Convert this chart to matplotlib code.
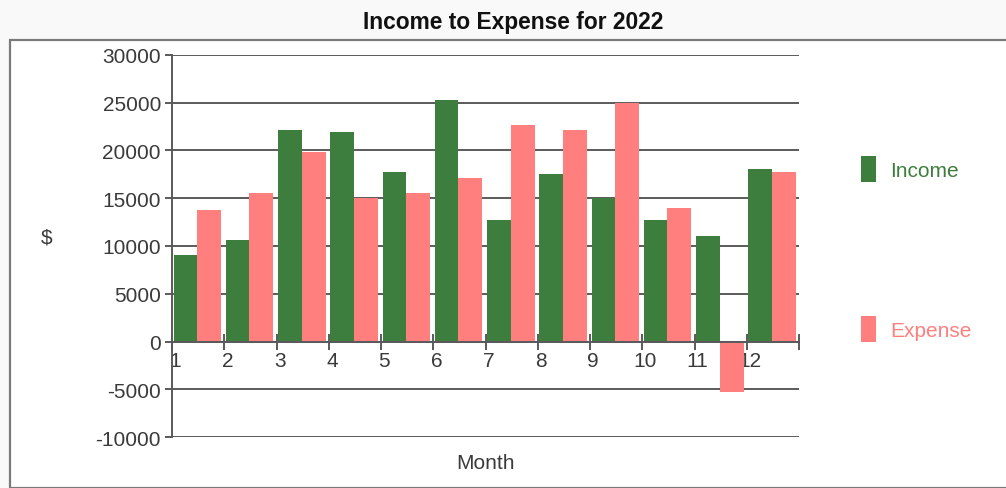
import matplotlib
matplotlib.use('Agg')
import matplotlib.pyplot as plt
from matplotlib.patches import Rectangle
import numpy as np

plt.rcParams['font.family'] = ['Liberation Sans', 'DejaVu Sans']

months = ['1', '2', '3', '4', '5', '6', '7', '8', '9', '10', '11', '12']
income = [9100, 10600, 22100, 21900, 17700, 25300, 12700, 17500, 15000, 12700, 11000, 18100]
expense = [13800, 15600, 19800, 15000, 15600, 17100, 22700, 22100, 25000, 14000, -5300, 17700]
y_ticks = [-10000, -5000, 0, 5000, 10000, 15000, 20000, 25000, 30000]

green = '#3d7d3d'
pink = '#ff7f7f'
text_col = '#3a3a3a'
line_col = '#5a5a5a'

fig = plt.figure(figsize=(10.06, 4.89), dpi=100)
fig.patch.set_facecolor('#f9f9f9')

# white panel with grey frame
frame = Rectangle((10 / 1006, 0), 1.0, 1 - 41 / 489, transform=fig.transFigure,
                  facecolor='white', edgecolor='#7a7a7a', linewidth=1.6, zorder=-5)
fig.add_artist(frame)

ax = fig.add_axes([172 / 1006, 1 - 438 / 489, (799 - 172) / 1006, (438 - 56) / 489])
ax.set_zorder(2)
ax.set_facecolor('white')

x = np.arange(len(months))
ax.bar(x + 0.03, income, width=0.45, align='edge', color=green, label='Income', zorder=3)
ax.bar(x + 0.48, expense, width=0.46, align='edge', color=pink, label='Expense', zorder=3)

ax.set_xlim(0, 12)
ax.set_ylim(-10000, 30000)
ax.set_yticks(y_ticks)
ax.set_yticklabels([str(v) for v in y_ticks])
ax.yaxis.grid(True, color=line_col, linewidth=1.4)
ax.set_axisbelow(True)

# tick marks on the month boundaries, labels just to the right of them
ax.set_xticks(np.arange(13))
ax.set_xticklabels([])
ax.set_xticks(x + 0.06, minor=True)
ax.set_xticklabels(months, minor=True, ha='left')

for s in ['top', 'right']:
    ax.spines[s].set_visible(False)
ax.spines['bottom'].set_position(('data', 0))
ax.spines['bottom'].set_color(line_col)
ax.spines['bottom'].set_linewidth(1.4)
ax.spines['bottom'].set_zorder(4)
ax.spines['left'].set_color(line_col)
ax.spines['left'].set_linewidth(1.4)

ax.tick_params(axis='y', length=5, width=1.4, color=line_col, labelsize=15,
               labelcolor=text_col, pad=3)
ax.tick_params(axis='x', which='major', direction='inout', length=11, width=1.4, color=line_col)
ax.tick_params(axis='x', which='minor', length=0, labelsize=15, labelcolor=text_col, pad=7)

fig.text(513 / 1006, 1 - 22 / 489, 'Income to Expense for 2022', ha='center', va='center',
         fontsize=16.4, fontweight='bold', color='#111111')
fig.text(47 / 1006, 1 - 238 / 489, '$', ha='center', va='center', fontsize=15, color=text_col)
fig.text(486 / 1006, 1 - 464 / 489, 'Month', ha='center', va='center', fontsize=15, color=text_col)

leg = fig.legend(loc='center left', bbox_to_anchor=(861 / 1006, 1 - 250 / 489), frameon=False,
                 fontsize=15, handlelength=0.7, handleheight=1.55, handletextpad=0.7,
                 labelspacing=6.4, borderpad=0, borderaxespad=0)
for t, c in zip(leg.get_texts(), [green, pink]):
    t.set_color(c)

fig.savefig('out.png', dpi=100, facecolor=fig.get_facecolor())
